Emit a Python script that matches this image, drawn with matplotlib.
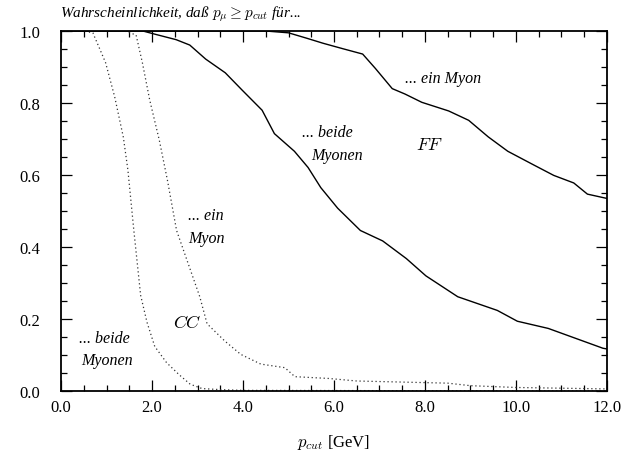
import matplotlib
matplotlib.use("Agg")
import matplotlib.pyplot as plt
from matplotlib.ticker import MultipleLocator, FormatStrFormatter

plt.rcParams['font.family'] = 'serif'
plt.rcParams['font.serif'] = ['Liberation Serif', 'DejaVu Serif']
plt.rcParams['mathtext.fontset'] = 'cm'

# FF: Wahrscheinlichkeit fuer ein Myon (solid, upper)
ff_ein_x = [0.0, 4.5, 5.0, 5.4, 5.76, 6.19, 6.63, 6.91, 7.28, 7.56, 7.93, 8.52,
            8.96, 9.39, 9.82, 10.39, 10.83, 11.27, 11.57, 12.0]
ff_ein_y = [1.0, 1.0, 0.995, 0.98, 0.966, 0.951, 0.936, 0.896, 0.840, 0.825,
            0.802, 0.778, 0.752, 0.706, 0.666, 0.628, 0.599, 0.578, 0.547, 0.535]

# FF: beide Myonen (solid, lower)
ff_beide_x = [0.0, 1.8, 2.1, 2.53, 2.83, 3.18, 3.61, 3.98, 4.20, 4.42, 4.69,
              5.13, 5.43, 5.71, 6.08, 6.58, 7.07, 7.59, 8.02, 8.72, 9.59,
              10.03, 10.71, 11.91, 12.0]
ff_beide_y = [1.0, 1.0, 0.99, 0.976, 0.961, 0.922, 0.884, 0.836, 0.808, 0.780,
              0.715, 0.666, 0.621, 0.565, 0.508, 0.446, 0.417, 0.368, 0.320,
              0.262, 0.224, 0.194, 0.174, 0.119, 0.117]

# CC: beide Myonen (dotted, left)
cc_beide_x = [0.0, 0.5, 0.70, 0.98, 1.18, 1.37, 1.47, 1.60, 1.75, 1.89, 2.06,
              2.32, 2.60, 2.84, 3.1, 3.5, 4.0, 12.0]
cc_beide_y = [1.0, 1.0, 0.995, 0.912, 0.817, 0.705, 0.614, 0.447, 0.266, 0.191,
              0.124, 0.079, 0.045, 0.019, 0.007, 0.004, 0.002, 0.0]

# CC: ein Myon (dotted, right)
cc_ein_x = [0.0, 1.4, 1.65, 1.79, 1.95, 2.16, 2.34, 2.54, 3.05, 3.21, 3.60,
            3.95, 4.39, 4.92, 5.14, 5.89, 6.5, 7.5, 8.5, 9.0, 10.0, 12.0]
cc_ein_y = [1.0, 1.0, 0.989, 0.911, 0.808, 0.697, 0.585, 0.446, 0.262, 0.187,
            0.139, 0.102, 0.075, 0.065, 0.040, 0.035, 0.028, 0.025, 0.022,
            0.015, 0.010, 0.006]

fig = plt.figure(figsize=(6.29, 4.64), dpi=100)
ax = fig.add_axes([0.097, 0.155, 0.868, 0.776])

ax.plot(ff_ein_x, ff_ein_y, color='black', lw=1.0)
ax.plot(ff_beide_x, ff_beide_y, color='black', lw=1.0)
ax.plot(cc_beide_x, cc_beide_y, color='#333333', lw=0.9, linestyle=(0, (1, 2.2)))
ax.plot(cc_ein_x, cc_ein_y, color='#333333', lw=0.9, linestyle=(0, (1, 2.2)))

ax.set_xlim(0, 12)
ax.set_ylim(0, 1)
ax.xaxis.set_major_locator(MultipleLocator(2))
ax.xaxis.set_minor_locator(MultipleLocator(0.5))
ax.yaxis.set_major_locator(MultipleLocator(0.2))
ax.yaxis.set_minor_locator(MultipleLocator(0.05))
ax.xaxis.set_major_formatter(FormatStrFormatter('%.1f'))
ax.yaxis.set_major_formatter(FormatStrFormatter('%.1f'))
ax.tick_params(which='both', direction='in', top=True, right=True, width=0.9)
ax.tick_params(which='major', length=8, labelsize=12)
ax.tick_params(axis='x', which='major', pad=6)
ax.tick_params(axis='y', which='major', pad=15)
ax.tick_params(which='minor', length=4)
for s in ax.spines.values():
    s.set_linewidth(1.3)

ax.set_xlabel(r'$p_{cut}$ [GeV]', fontsize=12, labelpad=12)

fig.text(60 / 629, 1 - 14 / 464,
         r'Wahrscheinlichkeit, daß $p_\mu \geq p_{cut}$ für...',
         fontsize=11, style='italic', ha='left', va='center')

# annotations
ax.text(7.55, 0.87, '... ein Myon', fontsize=11.5, style='italic', va='center')
ax.text(5.3, 0.72, '... beide', fontsize=11.5, style='italic', va='center')
ax.text(5.5, 0.655, 'Myonen', fontsize=11.5, style='italic', va='center')
ax.text(7.8, 0.685, r'$FF$', fontsize=13, va='center')
ax.text(2.8, 0.49, '... ein', fontsize=11.5, style='italic', va='center')
ax.text(2.8, 0.425, 'Myon', fontsize=11.5, style='italic', va='center')
ax.text(2.47, 0.19, r'$CC$', fontsize=13, va='center')
ax.text(0.4, 0.148, '... beide', fontsize=11.5, style='italic', va='center')
ax.text(0.45, 0.087, 'Myonen', fontsize=11.5, style='italic', va='center')

fig.savefig('out.png', dpi=100)
